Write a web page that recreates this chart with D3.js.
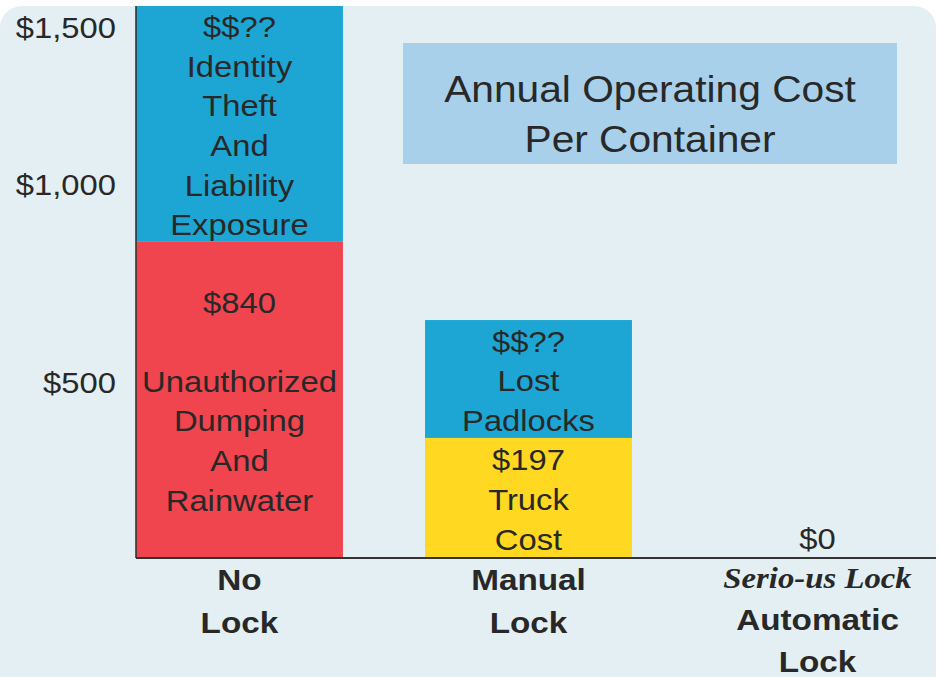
<!DOCTYPE html>
<html>
<head>
<meta charset="utf-8">
<script src="https://cdn.jsdelivr.net/npm/d3@7"></script>
<style>
  html, body { margin: 0; padding: 0; background: #ffffff; }
  svg { display: block; }
</style>
</head>
<body>
<svg id="chart" width="939" height="677"></svg>
<script>
// ---------- data ----------
const categories = ["No Lock", "Manual Lock", "Automatic Lock"];
// lower (known) cost segment, height as drawn on the picture's axis
const knownCost = [858, 343, 0];
// upper (unknown "$$??") cost segment, height as drawn
const unknownCost = [712, 316, 0];
const knownLabels = [
  ["$840", "", "Unauthorized", "Dumping", "And", "Rainwater"],
  ["$197", "Truck", "Cost"],
  ["$0"]
];
const unknownLabels = [
  ["$$??", "Identity", "Theft", "And", "Liability", "Exposure"],
  ["$$??", "Lost", "Padlocks"],
  []
];
const categoryLines = [
  ["No", "Lock"],
  ["Manual", "Lock"],
  ["Serio-us Lock", "Automatic", "Lock"]
];
const tickValues = [500, 1000, 1500];
const titleLines = ["Annual Operating Cost", "Per Container"];

// ---------- styles ----------
const W = 939, H = 677;
const bgColor = "#e3eff2";
const textColor = "#282828";
const blue = "#1da6d3";
const knownFill = { "No Lock": "#f0444e", "Manual Lock": "#fed821", "Automatic Lock": "#fed821" };
const sansFont = "'Liberation Sans', Arial, sans-serif";
const serifFont = "'Liberation Serif', 'Times New Roman', serif";
const stretch = 1.13;

const svg = d3.select("#chart");

// background rounded panel
svg.append("rect")
  .attr("x", 0).attr("y", 6)
  .attr("width", 936).attr("height", H + 30)
  .attr("rx", 22).attr("ry", 22)
  .attr("fill", bgColor);

// ---------- scales ----------
const axisX = 136, baseY = 558;
const y = d3.scaleLinear()
  .domain([0, 500, 1000, 1500])
  .range([baseY, 383, 185, 28]);

const x = d3.scaleBand()
  .domain(categories)
  .range([axisX, 921])
  .paddingInner(0.284)
  .paddingOuter(0);

const bw = x.bandwidth();

// ---------- title box ----------
svg.append("rect")
  .attr("x", 403).attr("y", 43)
  .attr("width", 494).attr("height", 121)
  .attr("fill", "#a9d0ea");

svg.selectAll("text.title")
  .data(titleLines)
  .join("text")
  .attr("class", "title")
  .attr("transform", (d, i) => `translate(650,${102 + i * 50}) scale(1.1,1)`)
  .attr("text-anchor", "middle")
  .attr("font-family", sansFont)
  .attr("font-size", 37)
  .attr("fill", textColor)
  .text(d => d);

// ---------- bars ----------
const rows = categories.map((c, i) => ({
  cat: c,
  known: knownCost[i],
  unknown: unknownCost[i],
  knownLabels: knownLabels[i],
  unknownLabels: unknownLabels[i],
  lines: categoryLines[i]
}));

const g = svg.append("g");

// known (lower) segment
g.selectAll("rect.known")
  .data(rows.filter(d => d.known > 0))
  .join("rect")
  .attr("class", "known")
  .attr("x", d => x(d.cat))
  .attr("width", bw)
  .attr("y", d => y(d.known))
  .attr("height", d => y(0) - y(d.known))
  .attr("fill", d => knownFill[d.cat]);

// unknown (upper) segment
g.selectAll("rect.unknown")
  .data(rows.filter(d => d.unknown > 0))
  .join("rect")
  .attr("class", "unknown")
  .attr("x", d => x(d.cat))
  .attr("width", bw)
  .attr("y", d => y(d.known + d.unknown))
  .attr("height", d => y(d.known) - y(d.known + d.unknown))
  .attr("fill", blue);

// ---------- labels inside segments ----------
const lineH = 39.6;
function blockLabels(lines, cx, midY) {
  const n = lines.length;
  lines.forEach((t, k) => {
    if (!t) return;
    const cy = midY + (k - (n - 1) / 2) * lineH;
    svg.append("text")
      .attr("transform", `translate(${cx},${cy + 10.5}) scale(${stretch},1)`)
      .attr("text-anchor", "middle")
      .attr("font-family", sansFont)
      .attr("font-size", 29)
      .attr("fill", textColor)
      .text(t);
  });
}

rows.forEach(d => {
  const cx = x(d.cat) + bw / 2;
  if (d.known > 0) {
    blockLabels(d.knownLabels, cx, (y(0) + y(d.known)) / 2 + 1.5);
  } else {
    blockLabels(d.knownLabels, cx, y(0) - 20);
  }
  if (d.unknown > 0) {
    blockLabels(d.unknownLabels, cx, (y(d.known) + y(d.known + d.unknown)) / 2 + 2);
  }
});

// ---------- axes ----------
const yAxis = d3.axisLeft(y)
  .tickValues(tickValues)
  .tickSize(0)
  .tickPadding(17.7)
  .tickFormat(d3.format("$,"));

const ya = svg.append("g")
  .attr("transform", `translate(${axisX},0)`)
  .call(yAxis);
ya.select(".domain").remove();
ya.selectAll("text")
  .attr("font-family", sansFont)
  .attr("font-size", 29)
  .attr("fill", textColor)
  .attr("transform", `scale(${stretch},1)`);

// axis lines
svg.append("line")
  .attr("x1", axisX).attr("x2", axisX)
  .attr("y1", 6).attr("y2", baseY)
  .attr("stroke", "#333").attr("stroke-width", 1.6);
svg.append("line")
  .attr("x1", axisX).attr("x2", 936)
  .attr("y1", baseY).attr("y2", baseY)
  .attr("stroke", "#333").attr("stroke-width", 2);

// ---------- category labels ----------
rows.forEach(d => {
  const cx = x(d.cat) + bw / 2;
  const three = d.lines.length === 3;
  d.lines.forEach((t, k) => {
    const isBrand = t.startsWith("Serio");
    const yy = three ? 588 + k * 42 : 590 + k * 43;
    svg.append("text")
      .attr("transform", `translate(${cx},${yy}) scale(${isBrand ? 1.13 : 1.11},1)`)
      .attr("text-anchor", "middle")
      .attr("font-family", isBrand ? serifFont : sansFont)
      .attr("font-style", isBrand ? "italic" : "normal")
      .attr("font-weight", "bold")
      .attr("font-size", isBrand ? 29 : 30)
      .attr("fill", textColor)
      .text(t);
  });
});
</script>
</body>
</html>
